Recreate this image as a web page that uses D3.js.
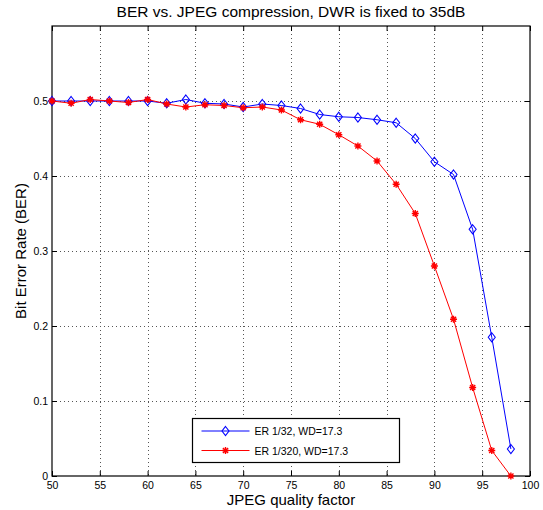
<!DOCTYPE html>
<html>
<head>
<meta charset="utf-8">
<script src="https://cdn.jsdelivr.net/npm/d3@7"></script>
<style>
  body { margin: 0; background: #fff; }
  svg { font-family: "Liberation Sans", Arial, Helvetica, sans-serif; }
</style>
</head>
<body>
<script>
// JPEG quality factor (x) and BER for the two embedding rates
const quality = [50, 52, 54, 56, 58, 60, 62, 64, 66, 68, 70, 72, 74, 76, 78, 80, 82, 84, 86, 88, 90, 92, 94, 96, 98];
const ber32 = [0.500, 0.500, 0.500, 0.500, 0.500, 0.500, 0.497, 0.502, 0.497, 0.496, 0.492, 0.496, 0.494, 0.490, 0.482, 0.479, 0.478, 0.475, 0.471, 0.450, 0.419, 0.402, 0.329, 0.185, 0.036];
const ber320 = [0.500, 0.497, 0.502, 0.500, 0.498, 0.502, 0.496, 0.492, 0.495, 0.494, 0.491, 0.492, 0.488, 0.475, 0.469, 0.455, 0.440, 0.420, 0.389, 0.350, 0.280, 0.209, 0.118, 0.034, 0.000];
const xTicks = [50, 55, 60, 65, 70, 75, 80, 85, 90, 95, 100];
const yTicks = [0, 0.1, 0.2, 0.3, 0.4, 0.5];
const legendLabels = ['ER 1/32, WD=17.3', 'ER 1/320, WD=17.3'];

const w = 543;
const h = 510;
const margin = { left: 52, right: 13, top: 26, bottom: 34 };

const svg = d3.select('body')
  .append('svg')
  .attr('width', w)
  .attr('height', h);

const xScale = d3.scaleLinear().domain([50, 100]).range([margin.left, w - margin.right]);
const yScale = d3.scaleLinear().domain([0, 0.6]).range([h - margin.bottom, margin.top]);

const x0 = xScale.range()[0], x1 = xScale.range()[1];
const y0 = yScale.range()[0], y1 = yScale.range()[1];

//dotted grid
svg.append('g')
  .selectAll('line')
  .data(xTicks.slice(1, -1))
  .enter()
  .append('line')
  .attr('x1', (d) => Math.round(xScale(d)) + 0.5).attr('x2', (d) => Math.round(xScale(d)) + 0.5)
  .attr('y1', y1).attr('y2', y0)
  .attr('stroke', '#555').attr('stroke-width', 1).attr('stroke-dasharray', '1,3');

svg.append('g')
  .selectAll('line')
  .data(yTicks.slice(1))
  .enter()
  .append('line')
  .attr('x1', x0).attr('x2', x1)
  .attr('y1', (d) => Math.round(yScale(d)) + 0.5).attr('y2', (d) => Math.round(yScale(d)) + 0.5)
  .attr('stroke', '#555').attr('stroke-width', 1).attr('stroke-dasharray', '1,3');

//axes with inward ticks, matlab style
const xAxis = d3.axisBottom(xScale).tickValues(xTicks).tickSize(-5).tickSizeOuter(0).tickPadding(6);
const yAxis = d3.axisLeft(yScale).tickValues(yTicks).tickSize(-5).tickSizeOuter(0).tickPadding(4)
  .tickFormat((d) => d === 0 ? '0' : d3.format('.1f')(d));

svg.append('g')
  .attr('transform', `translate(0, ${y0})`)
  .call(xAxis);
svg.append('g')
  .attr('transform', `translate(${x0}, 0)`)
  .call(yAxis);

svg.append('g')
  .attr('transform', `translate(0, ${y1})`)
  .call(d3.axisTop(xScale).tickValues(xTicks).tickSize(-5).tickSizeOuter(0).tickFormat(''));
svg.append('g')
  .attr('transform', `translate(${x1}, 0)`)
  .call(d3.axisRight(yScale).tickValues(yTicks).tickSize(-5).tickSizeOuter(0).tickFormat(''));

svg.selectAll('.domain').remove();
svg.selectAll('.tick line').attr('stroke', '#000');
svg.selectAll('.tick text').attr('font-size', '10.5px').attr('fill', '#000')
  .attr('font-family', '"Liberation Sans", Arial, sans-serif');

//frame
svg.append('rect')
  .attr('x', x0).attr('y', y1)
  .attr('width', x1 - x0).attr('height', y0 - y1)
  .attr('fill', 'none').attr('stroke', '#000').attr('stroke-width', 1.2);

//series
const series = [
  { values: ber32, color: '#0000ff', marker: 'diamond' },
  { values: ber320, color: '#ff0000', marker: 'star' }
];

const line = d3.line()
  .x((d) => xScale(d[0]))
  .y((d) => yScale(d[1]));

const diamondPath = 'M0,-4.5L3.5,0L0,4.5L-3.5,0Z';
const starPath = 'M-3.5,0L3.5,0M0,-3.5L0,3.5M-2.6,-2.6L2.6,2.6M-2.6,2.6L2.6,-2.6';

const drawMarker = (g, type, color) => {
  g.append('path')
    .attr('d', type === 'diamond' ? diamondPath : starPath)
    .attr('fill', 'none')
    .attr('stroke', color)
    .attr('stroke-width', type === 'diamond' ? 1.1 : 1.4);
};

series.forEach((s) => {
  const pts = quality.map((q, i) => [q, s.values[i]]);
  svg.append('path')
    .datum(pts)
    .attr('d', line)
    .attr('fill', 'none')
    .attr('stroke', s.color)
    .attr('stroke-width', 1);
  svg.append('g')
    .selectAll('g')
    .data(pts)
    .enter()
    .append('g')
    .attr('transform', (d) => `translate(${xScale(d[0])}, ${yScale(d[1])})`)
    .each(function () { drawMarker(d3.select(this), s.marker, s.color); });
});

//legend
const legend = svg.append('g').attr('transform', 'translate(192.5, 418.5)');
legend.append('rect')
  .attr('width', 207).attr('height', 44)
  .attr('fill', '#fff').attr('stroke', '#000').attr('stroke-width', 1.2);
series.forEach((s, i) => {
  const ly = 12.5 + i * 19.5;
  legend.append('line')
    .attr('x1', 9).attr('x2', 57).attr('y1', ly).attr('y2', ly)
    .attr('stroke', s.color).attr('stroke-width', 1);
  const mg = legend.append('g').attr('transform', `translate(33, ${ly})`);
  drawMarker(mg, s.marker, s.color);
  legend.append('text')
    .attr('x', 62).attr('y', ly + 4)
    .attr('font-size', '10.5px')
    .text(legendLabels[i]);
});

//title and axis labels
svg.append('text')
  .attr('x', (x0 + x1) / 2).attr('y', 17)
  .attr('text-anchor', 'middle')
  .attr('font-size', '15.5px')
  .text('BER vs. JPEG compression, DWR is fixed to 35dB');

svg.append('text')
  .attr('x', (x0 + x1) / 2).attr('y', 505)
  .attr('text-anchor', 'middle')
  .attr('font-size', '15px')
  .text('JPEG quality factor');

svg.append('text')
  .attr('transform', `translate(26, ${(y0 + y1) / 2}) rotate(-90)`)
  .attr('text-anchor', 'middle')
  .attr('font-size', '15px')
  .text('Bit Error Rate (BER)');
</script>
</body>
</html>
